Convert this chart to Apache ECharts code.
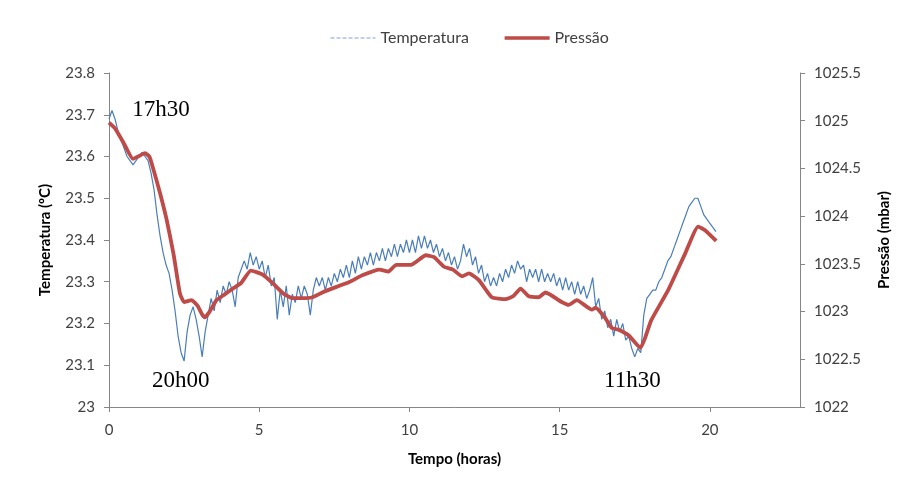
<!DOCTYPE html>
<html>
<head>
<meta charset="utf-8">
<script src="https://cdn.jsdelivr.net/npm/echarts@6/dist/echarts.min.js"></script>
<style>
  html, body { margin: 0; padding: 0; background: #ffffff; }
  #chart { width: 909px; height: 490px; }
</style>
</head>
<body>
<div id="chart"></div>
<script>
// Temperature logged every 0.1 h (ºC), starting at hour 0
const tempStepHours = 0.1;
const temperature = [
  23.69, 23.71, 23.69, 23.66, 23.64, 23.62, 23.60, 23.59, 23.58, 23.59,
  23.60, 23.61, 23.60, 23.59, 23.56, 23.52, 23.46, 23.41, 23.37, 23.34,
  23.32, 23.28, 23.23, 23.17, 23.13, 23.11, 23.18, 23.22, 23.24, 23.21,
  23.17, 23.12, 23.18, 23.22, 23.26, 23.23, 23.28, 23.25, 23.29, 23.27,
  23.30, 23.28, 23.24, 23.31, 23.33, 23.35, 23.33, 23.37, 23.34, 23.36,
  23.33, 23.35, 23.31, 23.34, 23.29, 23.31, 23.21, 23.28, 23.24, 23.29,
  23.22, 23.27, 23.25, 23.29, 23.26, 23.29, 23.27, 23.22, 23.28, 23.31,
  23.29, 23.31, 23.28, 23.31, 23.29, 23.32, 23.30, 23.33, 23.31, 23.34,
  23.31, 23.35, 23.32, 23.36, 23.33, 23.36, 23.34, 23.37, 23.34, 23.37,
  23.35, 23.38, 23.35, 23.38, 23.36, 23.39, 23.36, 23.39, 23.37, 23.40,
  23.37, 23.40, 23.37, 23.41, 23.38, 23.41, 23.38, 23.40, 23.37, 23.39,
  23.36, 23.38, 23.35, 23.37, 23.34, 23.36, 23.33, 23.35, 23.39, 23.36,
  23.38, 23.34, 23.36, 23.32, 23.34, 23.30, 23.32, 23.29, 23.31, 23.29,
  23.32, 23.30, 23.33, 23.31, 23.34, 23.32, 23.35, 23.33, 23.34, 23.30,
  23.33, 23.31, 23.33, 23.30, 23.33, 23.30, 23.32, 23.30, 23.32, 23.29,
  23.31, 23.28, 23.31, 23.28, 23.30, 23.27, 23.30, 23.27, 23.29, 23.26,
  23.28, 23.31, 23.24, 23.26, 23.21, 23.23, 23.19, 23.21, 23.17, 23.21,
  23.18, 23.20, 23.16, 23.17, 23.14, 23.12, 23.14, 23.13, 23.22, 23.26,
  23.27, 23.28, 23.28, 23.30, 23.31, 23.33, 23.35, 23.36, 23.38, 23.40,
  23.42, 23.44, 23.46, 23.48, 23.49, 23.50, 23.50, 23.48, 23.46, 23.45,
  23.44, 23.43, 23.42
];

// Pressure readings (mbar) and their times (h)
const pressureHours = [
  0, 0.2, 0.5, 0.8, 1.0, 1.2, 1.35, 1.46, 1.7, 1.92,
  2.15, 2.36, 2.5, 2.62, 2.75, 2.95, 3.1, 3.19, 3.35, 3.58,
  3.85, 4.12, 4.4, 4.72, 5.1, 5.44, 5.8, 6.1, 6.4, 6.77,
  7.1, 7.33, 8.0, 8.43, 9.0, 9.3, 9.56, 10.05, 10.55, 10.82,
  11.15, 11.45, 11.75, 11.98, 12.31, 12.74, 13.2, 13.45, 13.7, 13.97,
  14.3, 14.53, 15.07, 15.3, 15.57, 16.07, 16.2, 16.5, 16.73, 16.96,
  17.3, 17.69, 17.85, 18.05, 18.62, 19.18, 19.61, 19.85, 20.21
];
const pressureValues = [
  1024.98, 1024.92, 1024.76, 1024.60, 1024.63, 1024.66, 1024.62, 1024.51, 1024.24, 1023.96,
  1023.60, 1023.19, 1023.10, 1023.11, 1023.12, 1023.06, 1022.97, 1022.94, 1023.00, 1023.12,
  1023.18, 1023.24, 1023.30, 1023.43, 1023.39, 1023.30, 1023.19, 1023.14, 1023.14, 1023.15,
  1023.20, 1023.23, 1023.31, 1023.38, 1023.44, 1023.42, 1023.49, 1023.49, 1023.59, 1023.57,
  1023.47, 1023.44, 1023.37, 1023.40, 1023.33, 1023.15, 1023.13, 1023.16, 1023.24, 1023.16,
  1023.15, 1023.20, 1023.10, 1023.07, 1023.12, 1023.02, 1023.04, 1022.94, 1022.83, 1022.81,
  1022.75, 1022.62, 1022.73, 1022.91, 1023.23, 1023.61, 1023.89, 1023.85, 1023.74
];

// Time-of-day notes placed on the temperature scale
const noteText = ['17h30', '20h00', '11h30'];
const noteHour = [1.73, 2.39, 17.42];
const noteTemp = [23.711, 23.062, 23.062];

const tempAxisTicks = { min: 23, max: 23.8, interval: 0.1 };
const pressAxisTicks = { min: 1022, max: 1025.5, interval: 0.5 };
const hourAxisTicks = { min: 0, max: 23, interval: 5 };

const FONT = 'Lato, "Noto Sans", sans-serif';
const AXIS_GREY = '#868686';
const LABEL_COLOR = '#404040';
const BLUE = '#4A7EBB';
const RED = '#BE4B48';

const tempData = temperature.map((t, i) => [+(i * tempStepHours).toFixed(2), t]);
const pressData = pressureHours.map((h, i) => [h, pressureValues[i]]);

const chart = echarts.init(document.getElementById('chart'), null, { renderer: 'canvas' });

const plainNumber = v => String(+v.toFixed(2));

const axisCommon = {
  axisLine: { show: true, lineStyle: { color: AXIS_GREY, width: 1 } },
  axisTick: { show: true, length: 5, lineStyle: { color: AXIS_GREY } },
  splitLine: { show: false },
  axisLabel: { color: LABEL_COLOR, fontFamily: FONT, fontSize: 15, formatter: plainNumber },
  nameTextStyle: { color: '#000000', fontFamily: FONT, fontSize: 15, fontWeight: 'bold' }
};

chart.setOption({
  backgroundColor: '#ffffff',
  animation: false,
  textStyle: { fontFamily: FONT },
  legend: {
    top: 25,
    left: 325,
    itemWidth: 45,
    itemHeight: 14,
    itemGap: 34,
    textStyle: { color: LABEL_COLOR, fontFamily: FONT, fontSize: 16 },
    data: [
      {
        name: 'Temperatura',
        itemStyle: { opacity: 0 },
        lineStyle: { type: 'dashed', width: 1, color: '#7FA3D1' }
      },
      {
        name: 'Pressão',
        itemStyle: { opacity: 0 },
        lineStyle: { width: 3.5, color: RED }
      }
    ]
  },
  grid: { left: 109, right: 109, top: 73, bottom: 83, containLabel: false },
  xAxis: Object.assign({}, axisCommon, {
    type: 'value',
    min: hourAxisTicks.min,
    max: hourAxisTicks.max,
    interval: hourAxisTicks.interval,
    name: 'Tempo (horas)',
    nameLocation: 'middle',
    nameGap: 45,
    axisLabel: Object.assign({}, axisCommon.axisLabel, { margin: 16, showMaxLabel: false })
  }),
  yAxis: [
    Object.assign({}, axisCommon, {
      type: 'value',
      position: 'left',
      min: tempAxisTicks.min,
      max: tempAxisTicks.max,
      interval: tempAxisTicks.interval,
      name: 'Temperatura (ºC)',
      nameLocation: 'middle',
      nameRotate: 90,
      nameGap: 56,
      axisLabel: Object.assign({}, axisCommon.axisLabel, { margin: 14 })
    }),
    Object.assign({}, axisCommon, {
      type: 'value',
      position: 'right',
      min: pressAxisTicks.min,
      max: pressAxisTicks.max,
      interval: pressAxisTicks.interval,
      name: 'Pressão (mbar)',
      nameLocation: 'middle',
      nameRotate: 90,
      nameGap: 77,
      axisLabel: Object.assign({}, axisCommon.axisLabel, { margin: 14 })
    })
  ],
  series: [
    {
      name: 'Temperatura',
      type: 'line',
      yAxisIndex: 0,
      data: tempData,
      symbol: 'none',
      smooth: false,
      lineStyle: { color: BLUE, width: 1.2 },
      itemStyle: { color: BLUE },
      z: 2,
      markPoint: {
        symbol: 'circle',
        symbolSize: 1,
        itemStyle: { color: 'rgba(0,0,0,0)' },
        label: {
          show: true,
          position: 'inside',
          color: '#000000',
          fontFamily: '"Liberation Serif", "DejaVu Serif", serif',
          fontSize: 23,
          formatter: p => p.name
        },
        data: noteText.map((t, i) => ({ name: t, coord: [noteHour[i], noteTemp[i]] }))
      }
    },
    {
      name: 'Pressão',
      type: 'line',
      yAxisIndex: 1,
      data: pressData,
      symbol: 'none',
      smooth: 0.15,
      lineStyle: { color: RED, width: 3.8 },
      itemStyle: { color: RED },
      z: 3
    }
  ]
});
</script>
</body>
</html>
